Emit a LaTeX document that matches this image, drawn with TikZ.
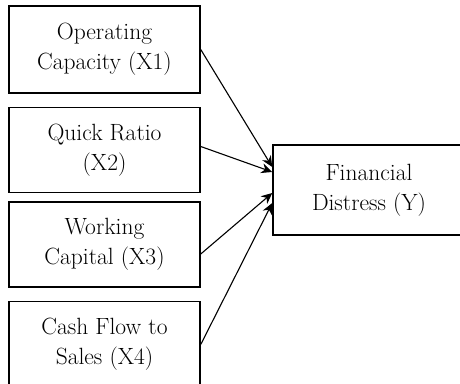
\documentclass[tikz,border=0pt]{standalone}
\usepackage{tikz}
\usetikzlibrary{arrows.meta, positioning}
\tikzset{
  basebox/.style={rectangle,draw=black,line width=1.5pt,align=center,inner sep=0pt,
    font=\fontsize{23.5}{30}\selectfont},
  varnode/.style={basebox,minimum width=191pt,minimum height=86pt},
  depnode/.style={basebox,minimum width=192pt,minimum height=90pt},
  arr/.style={-{Stealth[length=11pt,width=10pt]},line width=1.1pt,color=black}
}

\begin{document}
\begin{tikzpicture}[x=1pt,y=1pt]
  \useasboundingbox (0,0) rectangle (460,383);
  % independent variables
  \node[varnode,minimum height=87pt] (op) at (104.5,333.5) {Operating\\Capacity (X1)};
  \node[varnode,minimum height=85pt,below=13pt of op] (qr) {Quick Ratio\\(X2)};
  \node[varnode,minimum height=85pt,below=8pt of qr] (wc) {Working\\Capital (X3)};
  \node[varnode,below=13pt of wc] (cf) {Cash Flow to\\Sales (X4)};
  % dependent variable
  \node[depnode] (fd) at (369,193) {Financial\\Distress (Y)};

  \draw[arr] (op.east) -- ([yshift=23pt]fd.west);
  \draw[arr] ([yshift=3.5pt]qr.east) -- ([yshift=18pt]fd.west);
  \draw[arr] ([yshift=-9.5pt]wc.east) -- ([yshift=-3pt]fd.west);
  \draw[arr] (cf.east) -- ([yshift=-13pt]fd.west);
\end{tikzpicture}
\end{document}
